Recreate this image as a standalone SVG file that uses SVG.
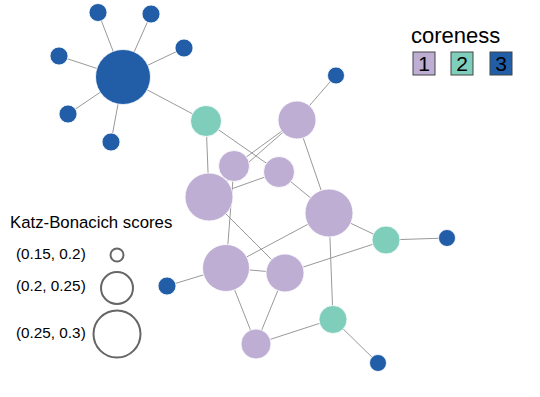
<svg xmlns="http://www.w3.org/2000/svg" width="540" height="397" viewBox="0 0 540 397">
<style>
.e{stroke:#999;stroke-width:1;fill:none}
.c1{fill:#BEAED4;stroke:#fff;stroke-width:0.8}
.c2{fill:#7FCDBB;stroke:#fff;stroke-width:0.8}
.c3{fill:#225EA8;stroke:#fff;stroke-width:0.8}
.t{font-family:"Liberation Sans",Arial,sans-serif;fill:#000}
.lg{fill:none;stroke:#666;stroke-width:2}
.bx{stroke:#444;stroke-width:1}
</style>
<rect width="540" height="397" fill="#fff"/>
<g id="edges">
<line class="e" x1="123" y1="77" x2="98" y2="12"/>
<line class="e" x1="123" y1="77" x2="151" y2="14"/>
<line class="e" x1="123" y1="77" x2="184" y2="48"/>
<line class="e" x1="123" y1="77" x2="59" y2="56"/>
<line class="e" x1="123" y1="77" x2="68" y2="114"/>
<line class="e" x1="123" y1="77" x2="111" y2="142"/>
<line class="e" x1="123" y1="77" x2="206" y2="121"/>
<line class="e" x1="206" y1="121" x2="209" y2="197"/>
<line class="e" x1="206" y1="121" x2="279" y2="172"/>
<line class="e" x1="297" y1="120" x2="336" y2="75"/>
<line class="e" x1="297" y1="120" x2="234" y2="166"/>
<line class="e" x1="297" y1="120" x2="209" y2="197"/>
<line class="e" x1="297" y1="120" x2="329" y2="213"/>
<line class="e" x1="209" y1="197" x2="279" y2="172"/>
<line class="e" x1="234" y1="166" x2="226" y2="268"/>
<line class="e" x1="279" y1="172" x2="329" y2="213"/>
<line class="e" x1="209" y1="197" x2="285" y2="273"/>
<line class="e" x1="329" y1="213" x2="226" y2="268"/>
<line class="e" x1="329" y1="213" x2="386" y2="240"/>
<line class="e" x1="329" y1="213" x2="333" y2="319"/>
<line class="e" x1="226" y1="268" x2="285" y2="273"/>
<line class="e" x1="226" y1="268" x2="167" y2="286"/>
<line class="e" x1="226" y1="268" x2="256" y2="344"/>
<line class="e" x1="285" y1="273" x2="256" y2="344"/>
<line class="e" x1="285" y1="273" x2="386" y2="240"/>
<line class="e" x1="386" y1="240" x2="447" y2="238"/>
<line class="e" x1="256" y1="344" x2="333" y2="319"/>
<line class="e" x1="333" y1="319" x2="378" y2="363"/>
</g>
<g id="hub"><circle class="c3" cx="123" cy="77" r="27.5"/></g>
<g id="leaf1"><circle class="c3" cx="98" cy="12.5" r="9"/></g>
<g id="leaf2"><circle class="c3" cx="151" cy="14" r="9"/></g>
<g id="leaf3"><circle class="c3" cx="184" cy="48" r="9"/></g>
<g id="leaf4"><circle class="c3" cx="59" cy="56" r="9"/></g>
<g id="leaf5"><circle class="c3" cx="68" cy="114" r="9"/></g>
<g id="leaf6"><circle class="c3" cx="111" cy="142" r="9"/></g>
<g id="nA"><circle class="c2" cx="206" cy="121" r="15.5"/></g>
<g id="nB"><circle class="c1" cx="297" cy="120" r="19"/></g>
<g id="nC"><circle class="c1" cx="234" cy="166" r="15.5"/></g>
<g id="nD"><circle class="c1" cx="279" cy="172" r="15.5"/></g>
<g id="nE"><circle class="c1" cx="209" cy="197" r="24"/></g>
<g id="nF"><circle class="c1" cx="329" cy="213" r="24"/></g>
<g id="leafB"><circle class="c3" cx="336" cy="75.5" r="8.5"/></g>
<g id="nG"><circle class="c2" cx="386" cy="240" r="14"/></g>
<g id="leafG"><circle class="c3" cx="447" cy="238" r="8.5"/></g>
<g id="nH"><circle class="c1" cx="226" cy="268" r="23.5"/></g>
<g id="nI"><circle class="c1" cx="285" cy="273" r="19"/></g>
<g id="leafH"><circle class="c3" cx="167" cy="286" r="9"/></g>
<g id="nJ"><circle class="c2" cx="333" cy="319.5" r="14"/></g>
<g id="nK"><circle class="c1" cx="256" cy="344" r="15"/></g>
<g id="leafJ"><circle class="c3" cx="378" cy="363" r="8.5"/></g>
<g id="legend-coreness">
<text class="t" x="411" y="43" font-size="22">coreness</text>
<rect class="bx" x="413" y="52" width="22" height="23" fill="#BEAED4"/>
<rect class="bx" x="451" y="52" width="22" height="23" fill="#7FCDBB"/>
<rect class="bx" x="490" y="52" width="22" height="23" fill="#225EA8"/>
<text class="t" x="424" y="71" font-size="21" text-anchor="middle">1</text>
<text class="t" x="462" y="71" font-size="21" text-anchor="middle">2</text>
<text class="t" x="501" y="71" font-size="21" text-anchor="middle">3</text>
</g>
<g id="legend-katz">
<text class="t" x="10" y="228" font-size="16.8">Katz-Bonacich scores</text>
<text class="t" x="16" y="259" font-size="15.3">(0.15, 0.2)</text>
<text class="t" x="16" y="291" font-size="15.3">(0.2, 0.25)</text>
<text class="t" x="16" y="338" font-size="15.3">(0.25, 0.3)</text>
<circle class="lg" cx="117" cy="255" r="6.5"/>
<circle class="lg" cx="117" cy="288" r="16"/>
<circle class="lg" cx="117" cy="334" r="23.5"/>
</g>
</svg>
